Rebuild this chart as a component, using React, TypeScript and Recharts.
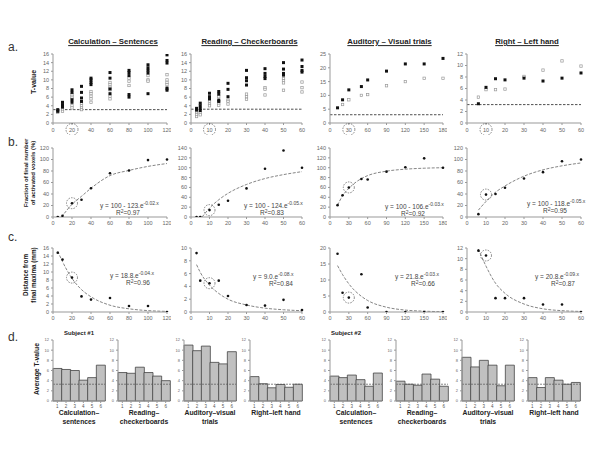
import React from 'react';
import {
  ComposedChart, Scatter, Line, XAxis, YAxis, ReferenceLine, ReferenceDot, BarChart, Bar,
} from 'recharts';

const FONT = '"Liberation Sans", Arial, sans-serif';

// ---- row a: T-value vs. number of trials (filled = one map, open = the other) ----
const calcFilled: [number, number[]][] = [
  [5, [3.1, 2.7]], [10, [4.8, 4.25, 3.7]], [20, [7.7, 7.1, 5.4, 4.8]], [30, [8.5, 7.1, 5.8, 5.0]],
  [40, [10.4, 10.0, 9.4, 8.9]], [60, [11.7, 10.4, 7.9, 6.8]], [80, [12.2, 11.7, 11.0, 6.6, 6.0]],
  [100, [13.5, 12.8, 12.2, 11.6, 6.8]], [120, [15.8, 14.5, 13.9, 8.1, 7.6]],
];
const calcOpen: [number, number[]][] = [
  [5, [2.9, 2.5]], [10, [3.1, 2.7]], [20, [6.6, 6.2, 5.8, 4.0, 3.5]], [30, [4.6, 4.0, 3.5, 3.1]],
  [40, [7.3, 6.8, 6.2, 5.6, 4.8]], [60, [9.4, 8.9, 8.3, 7.7, 6.2, 5.6]], [80, [10.4, 9.7, 8.7]],
  [100, [11.0, 10.0, 9.7]], [120, [11.2, 10.0, 9.4, 8.9, 7.9]],
];
const readFilled: [number, number[]][] = [
  [3, [3.4, 3.0]], [5, [4.6, 4.0, 3.4, 2.9]], [10, [6.9, 6.1, 5.6]], [15, [7.3, 6.7, 5.3, 5.0]],
  [20, [9.2, 7.8, 6.1]], [30, [12.2, 10.5, 9.8, 8.8]], [40, [12.6, 11.5, 10.8, 10.3]],
  [50, [14.0, 12.5, 11.5, 11.1]], [60, [14.6, 13.1, 12.2, 11.8]],
];
const readOpen: [number, number[]][] = [
  [3, [2.7, 2.3, 1.9, 1.5]], [5, [2.3, 1.9]], [10, [5.0, 4.4, 4.0]], [15, [6.1, 4.6, 4.1]],
  [20, [5.3, 5.0, 4.4]], [30, [6.7, 6.1, 5.5]], [40, [8.2, 7.8, 6.5]], [50, [10.3, 9.8, 9.3, 7.6]],
  [60, [9.5, 8.2, 7.2]],
];
const audFilled: [number, number[]][] = [
  [12, [5.5]], [20, [8.4]], [30, [12.0]], [50, [13.2]], [60, [15.6]], [90, [18.8]],
  [120, [21.4]], [150, [21.4]], [180, [23.4]],
];
const audOpen: [number, number[]][] = [
  [20, [6.7]], [30, [8.4]], [50, [10.0]], [60, [10.3]], [90, [13.5]], [120, [15.0]],
  [150, [16.2]], [180, [16.2]],
];
const handFilled: [number, number[]][] = [
  [6, [3.35]], [10, [6.2]], [15, [7.7]], [20, [7.5]], [30, [7.8]], [40, [7.3]], [50, [7.8]], [60, [8.7]],
];
const handOpen: [number, number[]][] = [
  [6, [4.5]], [10, [5.8]], [15, [5.8]], [20, [5.9]], [30, [8.1]], [40, [9.2]], [50, [10.8]], [60, [9.9]],
];

// ---- row b: fraction of final activated voxels (%) ----
const calcFrac = [[5, 0], [10, 2], [20, 24], [30, 30], [40, 50], [60, 76], [80, 81], [100, 99], [120, 100]];
const calcFracFit = [[9, 0], [20, 22], [30, 36], [40, 50], [60, 72], [80, 81], [100, 88], [120, 93]];
const readFrac = [[3, 0], [5, 0], [10, 14], [15, 25], [20, 33], [30, 58], [40, 98], [50, 135], [60, 100]];
const readFracFit = [[6, 0], [10, 18], [15, 35], [20, 48], [30, 66], [40, 78], [50, 86], [60, 92]];
const audFrac = [[12, 24], [20, 44], [30, 60], [50, 77], [60, 76], [90, 92], [120, 101], [150, 119], [180, 100]];
const audFracFit = [[12, 24], [20, 43], [30, 58], [50, 78], [60, 84], [90, 93], [120, 97], [150, 99], [180, 100]];
const handFrac = [[6, 5], [10, 39], [15, 40], [20, 51], [30, 67], [40, 78], [50, 97], [60, 100]];
const handFracFit = [[6, 12], [10, 27], [15, 43], [20, 54], [30, 71], [40, 82], [50, 89], [60, 94]];

// ---- row c: distance from final maxima (mm) ----
const calcDist = [[5, 14.8], [10, 13.1], [20, 8.6], [30, 3.9], [40, 3.1], [60, 3.5], [80, 1.5], [100, 1.5], [120, 0]];
const calcDistFit = [[5, 15.2], [10, 12.6], [20, 8.4], [30, 5.6], [40, 3.8], [60, 1.7], [80, 0.8], [100, 0.35], [120, 0.15]];
const readDist = [[3, 9.2], [5, 4.9], [10, 4.5], [15, 4.9], [20, 2.5], [30, 1.1], [40, 1.0], [50, 1.9], [60, 0.3]];
const readDistFit = [[3, 7.4], [5, 6.2], [10, 4.2], [15, 2.9], [20, 2.0], [30, 1.1], [40, 0.6], [50, 0.35], [60, 0.2]];
const audDist = [[12, 18.2], [20, 6.0], [30, 4.5], [50, 11.8], [60, 1.4], [90, 0], [120, 0], [150, 0], [180, 0]];
const audDistFit = [[12, 14.5], [20, 11.7], [30, 8.8], [50, 4.9], [60, 3.6], [90, 1.5], [120, 0.6], [150, 0.25], [180, 0.1]];
const handDist = [[6, 11.5], [10, 10.6], [15, 2.6], [20, 2.6], [30, 2.6], [40, 1.4], [50, 1.4], [60, 0]];
const handDistFit = [[6, 11.8], [10, 8.6], [15, 5.4], [20, 3.5], [30, 1.5], [40, 0.6], [50, 0.25], [60, 0.1]];

// ---- row d: average T-value per run ----
const runs = [1, 2, 3, 4, 5, 6];
const s1Calc = [6.4, 6.2, 6.0, 4.1, 4.6, 7.05];
const s1Read = [5.6, 5.45, 6.65, 5.6, 4.9, 4.0];
const s1Aud = [11.0, 9.9, 10.8, 7.6, 7.3, 9.7];
const s1Hand = [4.8, 3.4, 2.6, 3.25, 2.7, 3.3];
const s2Calc = [4.9, 4.6, 5.1, 4.2, 2.9, 5.5];
const s2Read = [3.9, 3.3, 3.1, 5.3, 4.3, 2.9];
const s2Aud = [8.6, 6.7, 8.0, 7.05, 3.0, 7.05];
const s2Hand = [4.6, 2.65, 4.6, 4.1, 3.3, 3.65];

const titles = ['Calculation \u2013  Sentences', 'Reading \u2013  Checkerboards', 'Auditory \u2013 Visual trials', 'Right \u2013 Left hand'];
const xTicksCols = [[0, 20, 40, 60, 80, 100, 120], [0, 10, 20, 30, 40, 50, 60], [0, 30, 60, 90, 120, 150, 180], [0, 10, 20, 30, 40, 50, 60]];
const ringTicks = [20, 10, 30, 10];
const colLeft = [53, 191, 330, 467];
const colWidth = [114, 111, 113, 114];

const spread = (rows: [number, number[]][]) => rows.flatMap(([x, ys]) => ys.map((y) => ({ x, y })));
const pts = (rows: number[][]) => rows.map(([x, y]) => ({ x, y }));

const YW = 16;
const XH = 12;
const MT = 4;
const MR = 4;

const axisStroke = '#999';
const tickStyle = { fontSize: 5.5, fill: '#666', fontFamily: FONT };

const FilledSq = (p: any) => <rect x={p.cx - 1.5} y={p.cy - 1.5} width={3} height={3} fill="#111" />;
const OpenSq = (p: any) => <rect x={p.cx - 1.2} y={p.cy - 1.2} width={2.4} height={2.4} fill="#fff" stroke="#999" strokeWidth={0.7} />;
const Dot = (p: any) => <circle cx={p.cx} cy={p.cy} r={1.3} fill="#111" />;

function ringTick(ring?: number) {
  return (props: any) => {
    const { x, y, payload } = props;
    return (
      <g>
        <text x={x} y={y} dy={4.5} textAnchor="middle" fontSize={5.5} fill="#666" fontFamily={FONT}>{payload.value}</text>
        {payload.value === ring && (
          <circle cx={x} cy={y + 2.5} r={6} fill="none" stroke="#555" strokeWidth={0.7} strokeDasharray="1.5 1.2" />
        )}
      </g>
    );
  };
}

interface PanelProps {
  left: number; top: number; w: number; h: number;
  xTicks: number[]; yTicks: number[];
  filled?: { x: number; y: number }[];
  open?: { x: number; y: number }[];
  dots?: { x: number; y: number }[];
  fit?: { x: number; y: number }[];
  threshold?: number;
  ring?: [number, number];
  tickRing?: number;
}

function Panel(p: PanelProps) {
  const xd = [p.xTicks[0], p.xTicks[p.xTicks.length - 1]];
  const yd = [p.yTicks[0], p.yTicks[p.yTicks.length - 1]];
  return (
    <div style={{ position: 'absolute', left: p.left - YW, top: p.top - MT }}>
      <ComposedChart width={YW + p.w + MR} height={MT + p.h + XH} margin={{ top: MT, right: MR, left: 0, bottom: 0 }}>
        <XAxis type="number" dataKey="x" domain={xd} ticks={p.xTicks} interval={0} height={XH}
          stroke={axisStroke} tickSize={2} tick={p.tickRing !== undefined ? ringTick(p.tickRing) : tickStyle} />
        <YAxis type="number" dataKey="y" domain={yd} ticks={p.yTicks} interval={0} width={YW}
          stroke={axisStroke} tickSize={2} tick={tickStyle} allowDataOverflow />
        {p.threshold !== undefined && (
          <ReferenceLine y={p.threshold} stroke="#222" strokeWidth={0.8} strokeDasharray="2.5 1.5" />
        )}
        {p.fit && (
          <Line data={p.fit} dataKey="y" type="monotone" stroke="#666" strokeWidth={0.8}
            strokeDasharray="3 1.5" dot={false} isAnimationActive={false} />
        )}
        {p.open && <Scatter data={p.open} shape={OpenSq} isAnimationActive={false} />}
        {p.filled && <Scatter data={p.filled} shape={FilledSq} isAnimationActive={false} />}
        {p.dots && <Scatter data={p.dots} shape={Dot} isAnimationActive={false} />}
        {p.ring && (
          <ReferenceDot x={p.ring[0]} y={p.ring[1]} r={5.5} fill="none" stroke="#555"
            strokeWidth={0.7} strokeDasharray="1.5 1.2" />
        )}
      </ComposedChart>
    </div>
  );
}

function BarPanel({ left, values }: { left: number; values: number[] }) {
  const data = runs.map((r, i) => ({ run: r, v: values[i] }));
  const w = 52;
  const h = 61;
  const top = 340;
  const yw = 12;
  return (
    <div style={{ position: 'absolute', left: left - yw, top: top - 2 }}>
      <BarChart width={yw + w + 2} height={2 + h + 9} data={data} barCategoryGap={0}
        margin={{ top: 2, right: 2, left: 0, bottom: 0 }}>
        <XAxis dataKey="run" height={9} stroke={axisStroke} tickSize={2}
          tick={{ fontSize: 4.5, fill: '#555', fontFamily: FONT }} interval={0} />
        <YAxis domain={[0, 12]} ticks={[0, 2, 4, 6, 8, 10, 12]} width={yw} interval={0}
          stroke={axisStroke} tickSize={2} tick={{ fontSize: 4, fill: '#666', fontFamily: FONT }} />
        <Bar dataKey="v" fill="#c0c0c0" stroke="#444" strokeWidth={0.8} isAnimationActive={false} />
        <ReferenceLine y={3.3} stroke="#555" strokeWidth={0.7} strokeDasharray="2 1" />
      </BarChart>
    </div>
  );
}

function Txt({ x, y, children, size = 7, bold = false, anchor = 'middle', style = {} }: any) {
  const tx = anchor === 'middle' ? '-50%' : anchor === 'end' ? '-100%' : '0';
  return (
    <div style={{
      position: 'absolute', left: x, top: y, transform: `translate(${tx}, -50%)`, whiteSpace: 'nowrap',
      fontSize: size, fontWeight: bold ? 700 : 400, fontFamily: FONT, color: '#222', lineHeight: 1, ...style,
    }}>{children}</div>
  );
}

function VTxt({ x, y, lines, size = 7 }: { x: number; y: number; lines: string[]; size?: number }) {
  return (
    <div style={{
      position: 'absolute', left: x, top: y, transform: 'translate(-50%, -50%) rotate(-90deg)', whiteSpace: 'nowrap',
      fontSize: size, fontWeight: 700, fontFamily: FONT, color: '#222', lineHeight: 1.2, textAlign: 'center',
    }}>{lines.map((l) => <div key={l}>{l}</div>)}</div>
  );
}

function Eq({ x, y, base, exp, r2 }: { x: number; y: number; base: string; exp: string; r2: string }) {
  return (
    <>
      <Txt x={x} y={y} size={6.5} anchor="start" style={{ color: '#444' }}>
        {base}<sup style={{ fontSize: 5, verticalAlign: 3 }}>{exp}</sup>
      </Txt>
      <Txt x={x + 16} y={y + 8} size={6.5} anchor="start" style={{ color: '#444' }}>
        R<sup style={{ fontSize: 5, verticalAlign: 2 }}>2</sup>={r2}
      </Txt>
    </>
  );
}

const rowA = { top: 54, h: 69 };
const rowB = { top: 148, h: 69 };
const rowC = { top: 248, h: 64 };

export default function App() {
  const aSets = [[calcFilled, calcOpen], [readFilled, readOpen], [audFilled, audOpen], [handFilled, handOpen]];
  const aY = [[0, 2, 4, 6, 8, 10, 12, 14, 16], [0, 2, 4, 6, 8, 10, 12, 14, 16], [0, 5, 10, 15, 20, 25], [0, 2, 4, 6, 8, 10, 12]];
  const aThr = [3.1, 3.2, 3.0, 3.2];
  const bSets = [[calcFrac, calcFracFit], [readFrac, readFracFit], [audFrac, audFracFit], [handFrac, handFracFit]];
  const bY = [[0, 20, 40, 60, 80, 100, 120], [0, 20, 40, 60, 80, 100, 120, 140], [0, 20, 40, 60, 80, 100, 120, 140], [0, 20, 40, 60, 80, 100, 120]];
  const bRing: [number, number][] = [[20, 24], [10, 14], [30, 60], [10, 39]];
  const cSets = [[calcDist, calcDistFit], [readDist, readDistFit], [audDist, audDistFit], [handDist, handDistFit]];
  const cY = [[0, 2, 4, 6, 8, 10, 12, 14, 16], [0, 2, 4, 6, 8, 10], [0, 5, 10, 15, 20], [0, 2, 4, 6, 8, 10, 12]];
  const cRing: [number, number][] = [[20, 8.6], [10, 4.5], [30, 4.5], [10, 10.6]];
  const bEq = [
    { x: 100, y: 205, base: 'y = 100 - 123.e', exp: '-0.02.x', r2: '0.97' },
    { x: 244, y: 205, base: 'y = 100 - 124.e', exp: '-0.05.x', r2: '0.83' },
    { x: 385, y: 206, base: 'y = 100 - 106.e', exp: '-0.03.x', r2: '0.92' },
    { x: 527, y: 203, base: 'y = 100 - 118.e', exp: '-0.05.x', r2: '0.95' },
  ];
  const cEq = [
    { x: 110, y: 275, base: 'y = 18.8.e', exp: '-0.04.x', r2: '0.96' },
    { x: 253, y: 276, base: 'y = 9.0.e', exp: '-0.08.x', r2: '0.84' },
    { x: 395, y: 276, base: 'y = 21.8.e', exp: '-0.03.x', r2: '0.66' },
    { x: 535, y: 276, base: 'y = 20.8.e', exp: '-0.09.x', r2: '0.87' },
  ];
  const barLefts = [53, 118, 184, 250, 330, 396, 462, 528];
  const barVals = [s1Calc, s1Read, s1Aud, s1Hand, s2Calc, s2Read, s2Aud, s2Hand];
  const barNames = [['Calculation\u2013', 'sentences'], ['Reading\u2013', 'checkerboards'], ['Auditory\u2013visual', 'trials'], ['Right\u2013left hand']];

  return (
    <div style={{ position: 'absolute', left: 0, top: 0, width: 600, height: 455, background: '#fff', overflow: 'hidden' }}>
      {titles.map((t, i) => (
        <Txt key={t} x={colLeft[i] + colWidth[i] / 2 + 3} y={42} size={7.8} bold style={{ textDecoration: 'underline' }}>{t}</Txt>
      ))}
      <Txt x={8} y={47} size={12} anchor="start" style={{ color: '#333' }}>a.</Txt>
      <Txt x={8} y={142} size={12} anchor="start" style={{ color: '#333' }}>b.</Txt>
      <Txt x={8} y={237} size={12} anchor="start" style={{ color: '#333' }}>c.</Txt>
      <Txt x={8} y={337} size={12} anchor="start" style={{ color: '#333' }}>d.</Txt>
      <VTxt x={34} y={82} lines={['T-value']} />
      <VTxt x={30} y={173} lines={['Fraction of final number', 'of activated voxels  (%)']} size={6} />
      <VTxt x={30} y={275} lines={['Distance from', 'final maxima (mm)']} size={6.3} />
      <VTxt x={37} y={369} lines={['Average T-value']} size={6.8} />

      {aSets.map(([f, o], i) => (
        <Panel key={'a' + i} left={colLeft[i]} top={rowA.top} w={colWidth[i]} h={rowA.h}
          xTicks={xTicksCols[i]} yTicks={aY[i]} filled={spread(f)} open={spread(o)}
          threshold={aThr[i]} tickRing={ringTicks[i]} />
      ))}
      {bSets.map(([d, f], i) => (
        <Panel key={'b' + i} left={colLeft[i]} top={rowB.top} w={colWidth[i]} h={rowB.h}
          xTicks={xTicksCols[i]} yTicks={bY[i]} dots={pts(d)} fit={pts(f)} ring={bRing[i]} />
      ))}
      {cSets.map(([d, f], i) => (
        <Panel key={'c' + i} left={colLeft[i]} top={rowC.top} w={colWidth[i]} h={rowC.h}
          xTicks={xTicksCols[i]} yTicks={cY[i]} dots={pts(d)} fit={pts(f)} ring={cRing[i]} />
      ))}
      {bEq.map((e) => <Eq key={e.base + e.x} {...e} />)}
      {cEq.map((e) => <Eq key={e.base + e.x} {...e} />)}

      <Txt x={64} y={333} size={6} bold anchor="start">Subject #1</Txt>
      <Txt x={331} y={333} size={6} bold anchor="start">Subject #2</Txt>
      {barVals.map((v, i) => <BarPanel key={'d' + i} left={barLefts[i]} values={v} />)}
      {barLefts.map((l, i) => (
        barNames[i % 4].map((line, j) => (
          <Txt key={'n' + i + j} x={l + 26} y={413 + j * 8.5} size={6.8} bold>{line}</Txt>
        ))
      ))}
    </div>
  );
}
